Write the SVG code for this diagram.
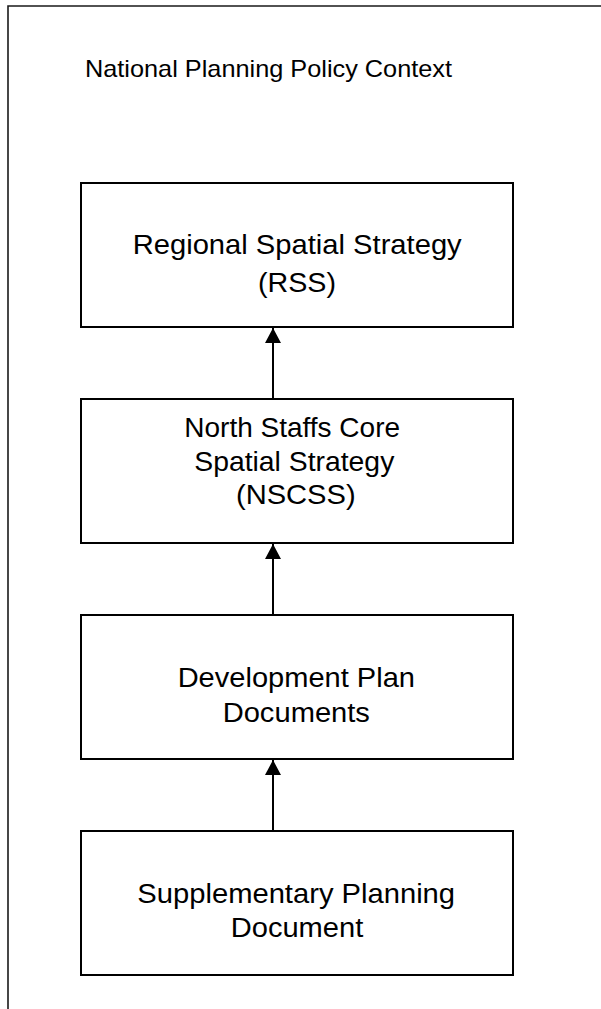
<svg xmlns="http://www.w3.org/2000/svg" width="601" height="1009" viewBox="0 0 601 1009">
<style>
.frame{fill:none;stroke:#1a1a1a;stroke-width:1.6}
.box{fill:#fff;stroke:#000;stroke-width:2}
.t{font-family:"Liberation Sans",Arial,sans-serif;font-size:27.5px;fill:#000;text-anchor:middle}
.title{font-size:24px}
.conn{stroke:#000;stroke-width:2;fill:none;marker-end:url(#ah)}
</style>
<defs>
<marker id="ah" markerUnits="userSpaceOnUse" markerWidth="16" markerHeight="16" refX="15" refY="8" orient="auto">
<path d="M0,0 L15,8 L0,16 Z" fill="#000"/>
</marker>
</defs>
<rect width="601" height="1009" fill="#fff"/>
<g id="context">
<path class="frame" d="M8,1009 V6 H601"/>
<text class="t title" x="268.5" y="77" textLength="367" lengthAdjust="spacingAndGlyphs">National Planning Policy Context</text>
</g>
<g id="rss">
<rect class="box" x="81" y="183" width="432" height="144"/>
<text class="t" x="297.2" y="254" textLength="329" lengthAdjust="spacingAndGlyphs">Regional Spatial Strategy</text>
<text class="t" x="297" y="292" textLength="78" lengthAdjust="spacingAndGlyphs">(RSS)</text>
</g>
<g id="nscss">
<rect class="box" x="81" y="399" width="432" height="144"/>
<text class="t" x="292.2" y="436.7" textLength="215.7" lengthAdjust="spacingAndGlyphs">North Staffs Core</text>
<text class="t" x="294.3" y="471" textLength="200" lengthAdjust="spacingAndGlyphs">Spatial Strategy</text>
<text class="t" x="295.8" y="504.3" textLength="119.7" lengthAdjust="spacingAndGlyphs">(NSCSS)</text>
</g>
<g id="dpd">
<rect class="box" x="81" y="615" width="432" height="144"/>
<text class="t" x="296.3" y="686.7" textLength="237.3" lengthAdjust="spacingAndGlyphs">Development Plan</text>
<text class="t" x="296.3" y="721.7" textLength="147.3" lengthAdjust="spacingAndGlyphs">Documents</text>
</g>
<g id="spd">
<rect class="box" x="81" y="831" width="432" height="144"/>
<text class="t" x="296.2" y="903.3" textLength="317.7" lengthAdjust="spacingAndGlyphs">Supplementary Planning</text>
<text class="t" x="297" y="937.3" textLength="132.6" lengthAdjust="spacingAndGlyphs">Document</text>
</g>
<g id="connectors">
<line class="conn" x1="273" y1="399" x2="273" y2="328"/>
<line class="conn" x1="273" y1="615" x2="273" y2="544"/>
<line class="conn" x1="273" y1="831" x2="273" y2="760"/>
</g>
</svg>
